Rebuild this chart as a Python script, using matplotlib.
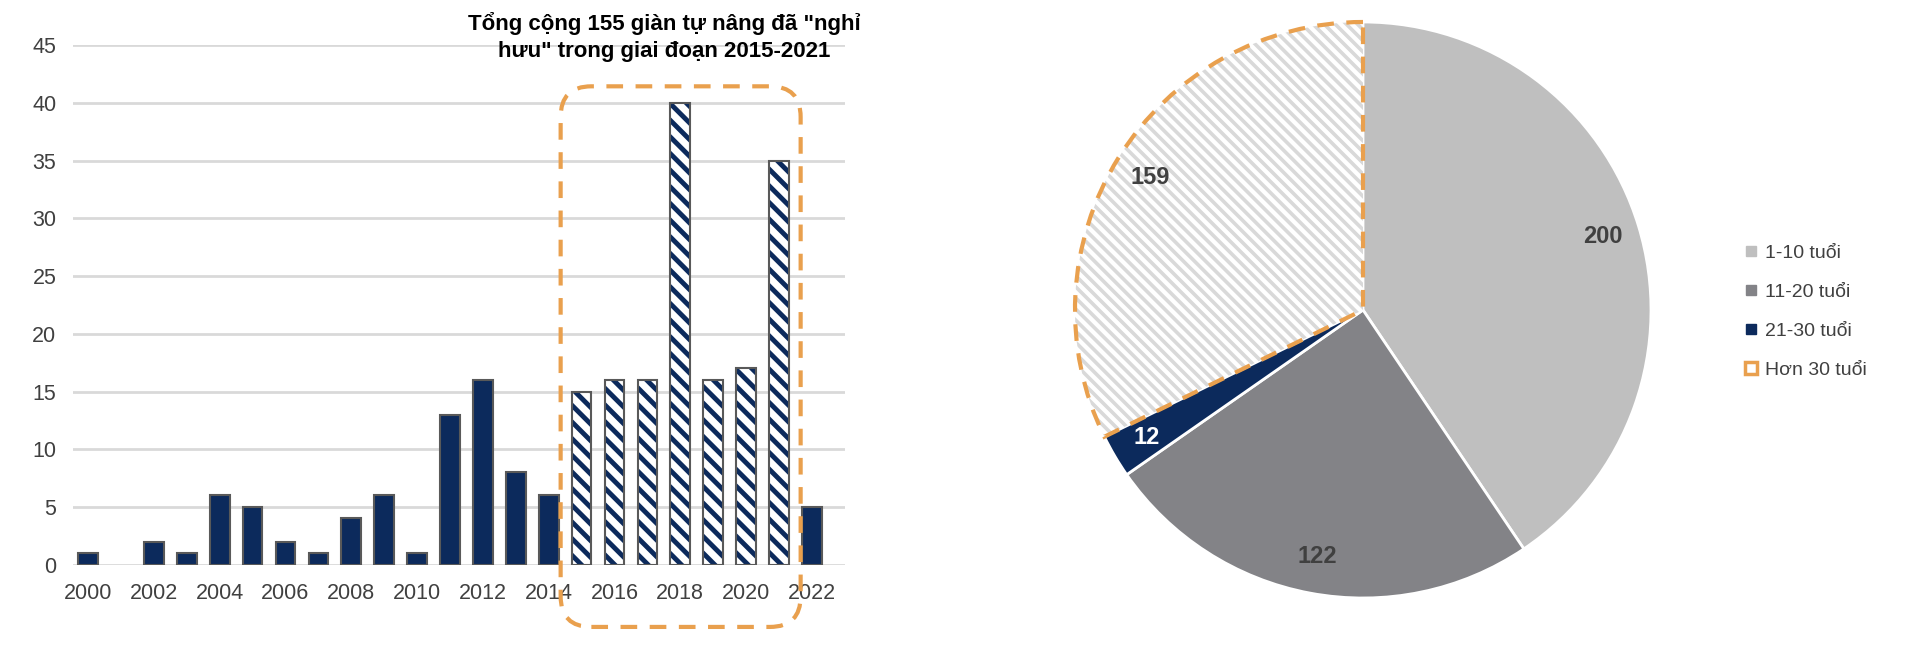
import matplotlib
matplotlib.use("Agg")
import matplotlib.pyplot as plt
from matplotlib.patches import FancyBboxPatch, Wedge
from matplotlib.lines import Line2D

plt.rcParams['font.family'] = ['Liberation Sans', 'DejaVu Sans']

# bar chart data
years = list(range(2000, 2023))
retired = [1, 0, 2, 1, 6, 5, 2, 1, 4, 6, 1, 13, 16, 8, 6,
           15, 16, 16, 40, 16, 17, 35, 5]
highlight = (2015, 2021)
title = 'Tổng cộng 155 giàn tự nâng đã "nghỉ\nhưu" trong giai đoạn 2015-2021'

# pie data
ages = ['1-10 tuổi', '11-20 tuổi', '21-30 tuổi', 'Hơn 30 tuổi']
counts = [200, 122, 12, 159]

navy = '#0c2a5c'
orange = '#e9a04e'
txt = '#404040'

fig = plt.figure(figsize=(19.2, 6.49), dpi=100)

# ---- left: bars ----
ax = fig.add_axes([0.038, 0.130, 0.402, 0.800])
sx, sv, hx, hv = [], [], [], []
for i, (y, v) in enumerate(zip(years, retired)):
    if v == 0:
        continue
    if highlight[0] <= y <= highlight[1]:
        hx.append(i); hv.append(v)
    else:
        sx.append(i); sv.append(v)

ax.bar(sx, sv, width=0.6, color=navy, edgecolor='#595959', linewidth=1.5, zorder=3)
plt.rcParams['hatch.linewidth'] = 3.5
ax.bar(hx, hv, width=0.6, color='white', edgecolor=navy, linewidth=0, hatch='\\\\', zorder=3)
ax.bar(hx, hv, width=0.6, fill=False, edgecolor='#595959', linewidth=1.5, zorder=4)

idx = list(range(len(years)))
ax.set_xlim(-0.46, 23.0)
ax.set_ylim(0, 45)
ax.set_yticks(range(0, 46, 5))
ax.set_xticks(idx[::2])
ax.set_xticklabels([str(y) for y in years[::2]])
ax.grid(axis='y', color='#d9d9d9', linewidth=2, zorder=0)
for s in ax.spines.values():
    s.set_visible(False)
ax.tick_params(length=0, labelsize=15.5, labelcolor=txt)
ax.tick_params(axis='y', pad=12)
ax.tick_params(axis='x', pad=13)

fig.text(0.346, 0.982, title, ha='center', va='top', fontsize=16,
         fontweight='bold', color='black', linespacing=1.4)

# dashed rounded frame around 2015-2021
box = FancyBboxPatch((0.292, 0.034), 0.417 - 0.292, 0.867 - 0.034,
                     boxstyle='round,pad=0,rounding_size=0.016',
                     mutation_aspect=1920 / 649, transform=fig.transFigure,
                     fill=False, edgecolor=orange, linewidth=3,
                     linestyle=(0, (4, 3)), zorder=10)
fig.patches.append(box)

# ---- right: pie ----
r_px = 288
lim = 1.05
side = 2 * lim * r_px
pax = fig.add_axes([(1363 - side / 2) / 1920, (649 - 310 - side / 2) / 649,
                    side / 1920, side / 649])
total = sum(counts)
plt.rcParams['hatch.linewidth'] = 2.6
wedges, labels, autotexts = pax.pie(
    counts, colors=['#bfbfbf', '#838387', navy, 'white'],
    startangle=90, counterclock=False,
    wedgeprops=dict(edgecolor='white', linewidth=2),
    autopct=lambda p: f'{round(p * total / 100)}', pctdistance=0.87,
    textprops=dict(fontsize=17, fontweight='bold', color=txt))
autotexts[2].set_color('white')
hw = wedges[3]
hw.set_edgecolor('#d9d9d9')
hw.set_linewidth(0)
hw.set_hatch('\\\\\\')
pax.add_patch(Wedge(hw.center, hw.r, hw.theta1, hw.theta2, fill=False,
                    edgecolor=orange, linewidth=3, linestyle=(0, (4, 3)),
                    zorder=5, clip_on=False))
pax.set_xlim(-lim, lim)
pax.set_ylim(-lim, lim)
pax.set_aspect('equal')

handles = [Line2D([], [], marker='s', linestyle='', markersize=7,
                  markerfacecolor=c, markeredgecolor=c)
           for c in ['#bfbfbf', '#838387', navy]]
handles.append(Line2D([], [], marker='s', linestyle='', markersize=8,
                      markerfacecolor='white', markeredgecolor=orange,
                      markeredgewidth=2.5))
fig.legend(handles, ages, loc='center left', bbox_to_anchor=(0.899, 0.52),
           frameon=False, fontsize=14, labelcolor=txt, handlelength=0.8,
           handletextpad=0.3, labelspacing=1.11)

fig.savefig('out.png', dpi=100)
